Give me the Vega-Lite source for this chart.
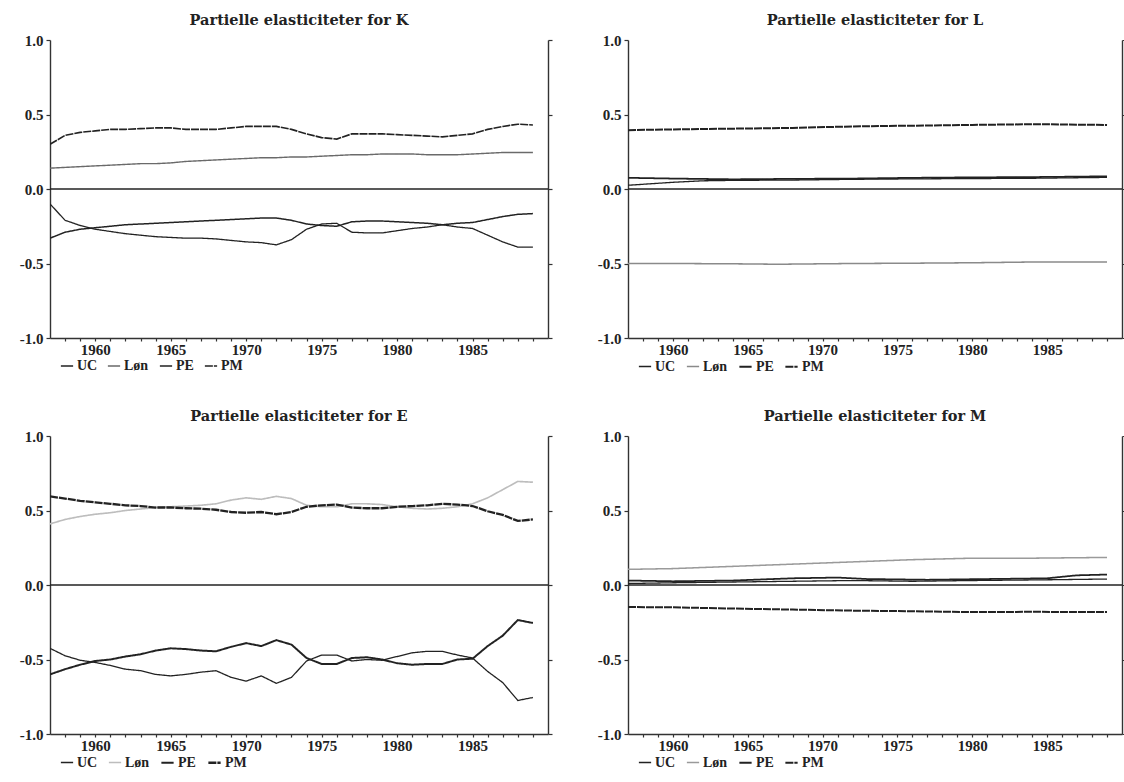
{
  "$schema": "https://vega.github.io/schema/vega-lite/v6.json",
  "padding": {"left": 19, "top": 12, "right": 0, "bottom": 0},
  "background": "white",
  "columns": 2,
  "spacing": {"row": 34, "column": 44},
  "datasets": {
    "el": [
      {"panel":"K","series":"Løn","year":1957,"value":0.14},{"panel":"K","series":"Løn","year":1958,"value":0.145},{"panel":"K","series":"Løn","year":1959,"value":0.15},{"panel":"K","series":"Løn","year":1960,"value":0.155},{"panel":"K","series":"Løn","year":1961,"value":0.16},{"panel":"K","series":"Løn","year":1962,"value":0.165},{"panel":"K","series":"Løn","year":1963,"value":0.17},{"panel":"K","series":"Løn","year":1964,"value":0.17},{"panel":"K","series":"Løn","year":1965,"value":0.175},{"panel":"K","series":"Løn","year":1966,"value":0.185},{"panel":"K","series":"Løn","year":1967,"value":0.19},{"panel":"K","series":"Løn","year":1968,"value":0.195},{"panel":"K","series":"Løn","year":1969,"value":0.2},{"panel":"K","series":"Løn","year":1970,"value":0.205},{"panel":"K","series":"Løn","year":1971,"value":0.21},{"panel":"K","series":"Løn","year":1972,"value":0.21},{"panel":"K","series":"Løn","year":1973,"value":0.215},{"panel":"K","series":"Løn","year":1974,"value":0.215},{"panel":"K","series":"Løn","year":1975,"value":0.22},{"panel":"K","series":"Løn","year":1976,"value":0.225},{"panel":"K","series":"Løn","year":1977,"value":0.23},{"panel":"K","series":"Løn","year":1978,"value":0.23},{"panel":"K","series":"Løn","year":1979,"value":0.235},{"panel":"K","series":"Løn","year":1980,"value":0.235},{"panel":"K","series":"Løn","year":1981,"value":0.235},{"panel":"K","series":"Løn","year":1982,"value":0.23},{"panel":"K","series":"Løn","year":1983,"value":0.23},{"panel":"K","series":"Løn","year":1984,"value":0.23},{"panel":"K","series":"Løn","year":1985,"value":0.235},{"panel":"K","series":"Løn","year":1986,"value":0.24},{"panel":"K","series":"Løn","year":1987,"value":0.245},{"panel":"K","series":"Løn","year":1988,"value":0.245},{"panel":"K","series":"Løn","year":1989,"value":0.245},
      {"panel":"K","series":"UC","year":1957,"value":-0.1},{"panel":"K","series":"UC","year":1958,"value":-0.21},{"panel":"K","series":"UC","year":1959,"value":-0.245},{"panel":"K","series":"UC","year":1960,"value":-0.27},{"panel":"K","series":"UC","year":1961,"value":-0.285},{"panel":"K","series":"UC","year":1962,"value":-0.3},{"panel":"K","series":"UC","year":1963,"value":-0.31},{"panel":"K","series":"UC","year":1964,"value":-0.32},{"panel":"K","series":"UC","year":1965,"value":-0.325},{"panel":"K","series":"UC","year":1966,"value":-0.33},{"panel":"K","series":"UC","year":1967,"value":-0.33},{"panel":"K","series":"UC","year":1968,"value":-0.335},{"panel":"K","series":"UC","year":1969,"value":-0.345},{"panel":"K","series":"UC","year":1970,"value":-0.355},{"panel":"K","series":"UC","year":1971,"value":-0.36},{"panel":"K","series":"UC","year":1972,"value":-0.375},{"panel":"K","series":"UC","year":1973,"value":-0.34},{"panel":"K","series":"UC","year":1974,"value":-0.27},{"panel":"K","series":"UC","year":1975,"value":-0.235},{"panel":"K","series":"UC","year":1976,"value":-0.23},{"panel":"K","series":"UC","year":1977,"value":-0.29},{"panel":"K","series":"UC","year":1978,"value":-0.295},{"panel":"K","series":"UC","year":1979,"value":-0.295},{"panel":"K","series":"UC","year":1980,"value":-0.28},{"panel":"K","series":"UC","year":1981,"value":-0.265},{"panel":"K","series":"UC","year":1982,"value":-0.255},{"panel":"K","series":"UC","year":1983,"value":-0.24},{"panel":"K","series":"UC","year":1984,"value":-0.255},{"panel":"K","series":"UC","year":1985,"value":-0.265},{"panel":"K","series":"UC","year":1986,"value":-0.31},{"panel":"K","series":"UC","year":1987,"value":-0.355},{"panel":"K","series":"UC","year":1988,"value":-0.39},{"panel":"K","series":"UC","year":1989,"value":-0.39},
      {"panel":"K","series":"PE","year":1957,"value":-0.33},{"panel":"K","series":"PE","year":1958,"value":-0.29},{"panel":"K","series":"PE","year":1959,"value":-0.27},{"panel":"K","series":"PE","year":1960,"value":-0.26},{"panel":"K","series":"PE","year":1961,"value":-0.25},{"panel":"K","series":"PE","year":1962,"value":-0.24},{"panel":"K","series":"PE","year":1963,"value":-0.235},{"panel":"K","series":"PE","year":1964,"value":-0.23},{"panel":"K","series":"PE","year":1965,"value":-0.225},{"panel":"K","series":"PE","year":1966,"value":-0.22},{"panel":"K","series":"PE","year":1967,"value":-0.215},{"panel":"K","series":"PE","year":1968,"value":-0.21},{"panel":"K","series":"PE","year":1969,"value":-0.205},{"panel":"K","series":"PE","year":1970,"value":-0.2},{"panel":"K","series":"PE","year":1971,"value":-0.195},{"panel":"K","series":"PE","year":1972,"value":-0.195},{"panel":"K","series":"PE","year":1973,"value":-0.21},{"panel":"K","series":"PE","year":1974,"value":-0.235},{"panel":"K","series":"PE","year":1975,"value":-0.245},{"panel":"K","series":"PE","year":1976,"value":-0.25},{"panel":"K","series":"PE","year":1977,"value":-0.22},{"panel":"K","series":"PE","year":1978,"value":-0.215},{"panel":"K","series":"PE","year":1979,"value":-0.215},{"panel":"K","series":"PE","year":1980,"value":-0.22},{"panel":"K","series":"PE","year":1981,"value":-0.225},{"panel":"K","series":"PE","year":1982,"value":-0.23},{"panel":"K","series":"PE","year":1983,"value":-0.24},{"panel":"K","series":"PE","year":1984,"value":-0.23},{"panel":"K","series":"PE","year":1985,"value":-0.225},{"panel":"K","series":"PE","year":1986,"value":-0.205},{"panel":"K","series":"PE","year":1987,"value":-0.185},{"panel":"K","series":"PE","year":1988,"value":-0.17},{"panel":"K","series":"PE","year":1989,"value":-0.165},
      {"panel":"K","series":"PM","year":1957,"value":0.3},{"panel":"K","series":"PM","year":1958,"value":0.36},{"panel":"K","series":"PM","year":1959,"value":0.38},{"panel":"K","series":"PM","year":1960,"value":0.39},{"panel":"K","series":"PM","year":1961,"value":0.4},{"panel":"K","series":"PM","year":1962,"value":0.4},{"panel":"K","series":"PM","year":1963,"value":0.405},{"panel":"K","series":"PM","year":1964,"value":0.41},{"panel":"K","series":"PM","year":1965,"value":0.41},{"panel":"K","series":"PM","year":1966,"value":0.4},{"panel":"K","series":"PM","year":1967,"value":0.4},{"panel":"K","series":"PM","year":1968,"value":0.4},{"panel":"K","series":"PM","year":1969,"value":0.41},{"panel":"K","series":"PM","year":1970,"value":0.42},{"panel":"K","series":"PM","year":1971,"value":0.42},{"panel":"K","series":"PM","year":1972,"value":0.42},{"panel":"K","series":"PM","year":1973,"value":0.4},{"panel":"K","series":"PM","year":1974,"value":0.37},{"panel":"K","series":"PM","year":1975,"value":0.345},{"panel":"K","series":"PM","year":1976,"value":0.335},{"panel":"K","series":"PM","year":1977,"value":0.37},{"panel":"K","series":"PM","year":1978,"value":0.37},{"panel":"K","series":"PM","year":1979,"value":0.37},{"panel":"K","series":"PM","year":1980,"value":0.365},{"panel":"K","series":"PM","year":1981,"value":0.36},{"panel":"K","series":"PM","year":1982,"value":0.355},{"panel":"K","series":"PM","year":1983,"value":0.35},{"panel":"K","series":"PM","year":1984,"value":0.36},{"panel":"K","series":"PM","year":1985,"value":0.37},{"panel":"K","series":"PM","year":1986,"value":0.4},{"panel":"K","series":"PM","year":1987,"value":0.42},{"panel":"K","series":"PM","year":1988,"value":0.435},{"panel":"K","series":"PM","year":1989,"value":0.43},

      {"panel":"L","series":"Løn","year":1957,"value":-0.5},{"panel":"L","series":"Løn","year":1960,"value":-0.5},{"panel":"L","series":"Løn","year":1964,"value":-0.502},{"panel":"L","series":"Løn","year":1967,"value":-0.505},{"panel":"L","series":"Løn","year":1972,"value":-0.5},{"panel":"L","series":"Løn","year":1976,"value":-0.498},{"panel":"L","series":"Løn","year":1980,"value":-0.495},{"panel":"L","series":"Løn","year":1984,"value":-0.49},{"panel":"L","series":"Løn","year":1989,"value":-0.49},
      {"panel":"L","series":"UC","year":1957,"value":0.025},{"panel":"L","series":"UC","year":1960,"value":0.045},{"panel":"L","series":"UC","year":1962,"value":0.055},{"panel":"L","series":"UC","year":1964,"value":0.058},{"panel":"L","series":"UC","year":1968,"value":0.06},{"panel":"L","series":"UC","year":1972,"value":0.065},{"panel":"L","series":"UC","year":1976,"value":0.068},{"panel":"L","series":"UC","year":1980,"value":0.07},{"panel":"L","series":"UC","year":1984,"value":0.072},{"panel":"L","series":"UC","year":1989,"value":0.078},
      {"panel":"L","series":"PE","year":1957,"value":0.075},{"panel":"L","series":"PE","year":1960,"value":0.07},{"panel":"L","series":"PE","year":1964,"value":0.065},{"panel":"L","series":"PE","year":1968,"value":0.068},{"panel":"L","series":"PE","year":1972,"value":0.07},{"panel":"L","series":"PE","year":1976,"value":0.075},{"panel":"L","series":"PE","year":1980,"value":0.078},{"panel":"L","series":"PE","year":1984,"value":0.08},{"panel":"L","series":"PE","year":1989,"value":0.085},
      {"panel":"L","series":"PM","year":1957,"value":0.395},{"panel":"L","series":"PM","year":1960,"value":0.4},{"panel":"L","series":"PM","year":1964,"value":0.405},{"panel":"L","series":"PM","year":1968,"value":0.41},{"panel":"L","series":"PM","year":1972,"value":0.42},{"panel":"L","series":"PM","year":1976,"value":0.425},{"panel":"L","series":"PM","year":1980,"value":0.43},{"panel":"L","series":"PM","year":1984,"value":0.435},{"panel":"L","series":"PM","year":1989,"value":0.43},

      {"panel":"E","series":"Løn","year":1957,"value":0.41},{"panel":"E","series":"Løn","year":1958,"value":0.44},{"panel":"E","series":"Løn","year":1959,"value":0.46},{"panel":"E","series":"Løn","year":1960,"value":0.475},{"panel":"E","series":"Løn","year":1961,"value":0.485},{"panel":"E","series":"Løn","year":1962,"value":0.5},{"panel":"E","series":"Løn","year":1963,"value":0.51},{"panel":"E","series":"Løn","year":1964,"value":0.52},{"panel":"E","series":"Løn","year":1965,"value":0.525},{"panel":"E","series":"Løn","year":1966,"value":0.53},{"panel":"E","series":"Løn","year":1967,"value":0.535},{"panel":"E","series":"Løn","year":1968,"value":0.545},{"panel":"E","series":"Løn","year":1969,"value":0.57},{"panel":"E","series":"Løn","year":1970,"value":0.585},{"panel":"E","series":"Løn","year":1971,"value":0.575},{"panel":"E","series":"Løn","year":1972,"value":0.595},{"panel":"E","series":"Løn","year":1973,"value":0.58},{"panel":"E","series":"Løn","year":1974,"value":0.535},{"panel":"E","series":"Løn","year":1975,"value":0.525},{"panel":"E","series":"Løn","year":1976,"value":0.525},{"panel":"E","series":"Løn","year":1977,"value":0.545},{"panel":"E","series":"Løn","year":1978,"value":0.545},{"panel":"E","series":"Løn","year":1979,"value":0.54},{"panel":"E","series":"Løn","year":1980,"value":0.525},{"panel":"E","series":"Løn","year":1981,"value":0.515},{"panel":"E","series":"Løn","year":1982,"value":0.51},{"panel":"E","series":"Løn","year":1983,"value":0.515},{"panel":"E","series":"Løn","year":1984,"value":0.525},{"panel":"E","series":"Løn","year":1985,"value":0.545},{"panel":"E","series":"Løn","year":1986,"value":0.585},{"panel":"E","series":"Løn","year":1987,"value":0.64},{"panel":"E","series":"Løn","year":1988,"value":0.695},{"panel":"E","series":"Løn","year":1989,"value":0.69},
      {"panel":"E","series":"UC","year":1957,"value":-0.425},{"panel":"E","series":"UC","year":1958,"value":-0.475},{"panel":"E","series":"UC","year":1959,"value":-0.505},{"panel":"E","series":"UC","year":1960,"value":-0.52},{"panel":"E","series":"UC","year":1961,"value":-0.54},{"panel":"E","series":"UC","year":1962,"value":-0.565},{"panel":"E","series":"UC","year":1963,"value":-0.575},{"panel":"E","series":"UC","year":1964,"value":-0.6},{"panel":"E","series":"UC","year":1965,"value":-0.61},{"panel":"E","series":"UC","year":1966,"value":-0.6},{"panel":"E","series":"UC","year":1967,"value":-0.585},{"panel":"E","series":"UC","year":1968,"value":-0.575},{"panel":"E","series":"UC","year":1969,"value":-0.62},{"panel":"E","series":"UC","year":1970,"value":-0.645},{"panel":"E","series":"UC","year":1971,"value":-0.61},{"panel":"E","series":"UC","year":1972,"value":-0.66},{"panel":"E","series":"UC","year":1973,"value":-0.62},{"panel":"E","series":"UC","year":1974,"value":-0.51},{"panel":"E","series":"UC","year":1975,"value":-0.47},{"panel":"E","series":"UC","year":1976,"value":-0.47},{"panel":"E","series":"UC","year":1977,"value":-0.51},{"panel":"E","series":"UC","year":1978,"value":-0.5},{"panel":"E","series":"UC","year":1979,"value":-0.505},{"panel":"E","series":"UC","year":1980,"value":-0.48},{"panel":"E","series":"UC","year":1981,"value":-0.455},{"panel":"E","series":"UC","year":1982,"value":-0.445},{"panel":"E","series":"UC","year":1983,"value":-0.445},{"panel":"E","series":"UC","year":1984,"value":-0.47},{"panel":"E","series":"UC","year":1985,"value":-0.49},{"panel":"E","series":"UC","year":1986,"value":-0.58},{"panel":"E","series":"UC","year":1987,"value":-0.655},{"panel":"E","series":"UC","year":1988,"value":-0.775},{"panel":"E","series":"UC","year":1989,"value":-0.755},
      {"panel":"E","series":"PE","year":1957,"value":-0.6},{"panel":"E","series":"PE","year":1958,"value":-0.565},{"panel":"E","series":"PE","year":1959,"value":-0.535},{"panel":"E","series":"PE","year":1960,"value":-0.51},{"panel":"E","series":"PE","year":1961,"value":-0.5},{"panel":"E","series":"PE","year":1962,"value":-0.48},{"panel":"E","series":"PE","year":1963,"value":-0.465},{"panel":"E","series":"PE","year":1964,"value":-0.44},{"panel":"E","series":"PE","year":1965,"value":-0.425},{"panel":"E","series":"PE","year":1966,"value":-0.43},{"panel":"E","series":"PE","year":1967,"value":-0.44},{"panel":"E","series":"PE","year":1968,"value":-0.445},{"panel":"E","series":"PE","year":1969,"value":-0.415},{"panel":"E","series":"PE","year":1970,"value":-0.39},{"panel":"E","series":"PE","year":1971,"value":-0.41},{"panel":"E","series":"PE","year":1972,"value":-0.37},{"panel":"E","series":"PE","year":1973,"value":-0.4},{"panel":"E","series":"PE","year":1974,"value":-0.49},{"panel":"E","series":"PE","year":1975,"value":-0.53},{"panel":"E","series":"PE","year":1976,"value":-0.53},{"panel":"E","series":"PE","year":1977,"value":-0.49},{"panel":"E","series":"PE","year":1978,"value":-0.485},{"panel":"E","series":"PE","year":1979,"value":-0.5},{"panel":"E","series":"PE","year":1980,"value":-0.525},{"panel":"E","series":"PE","year":1981,"value":-0.535},{"panel":"E","series":"PE","year":1982,"value":-0.53},{"panel":"E","series":"PE","year":1983,"value":-0.53},{"panel":"E","series":"PE","year":1984,"value":-0.5},{"panel":"E","series":"PE","year":1985,"value":-0.495},{"panel":"E","series":"PE","year":1986,"value":-0.41},{"panel":"E","series":"PE","year":1987,"value":-0.34},{"panel":"E","series":"PE","year":1988,"value":-0.235},{"panel":"E","series":"PE","year":1989,"value":-0.255},
      {"panel":"E","series":"PM","year":1957,"value":0.595},{"panel":"E","series":"PM","year":1958,"value":0.58},{"panel":"E","series":"PM","year":1959,"value":0.565},{"panel":"E","series":"PM","year":1960,"value":0.555},{"panel":"E","series":"PM","year":1961,"value":0.545},{"panel":"E","series":"PM","year":1962,"value":0.535},{"panel":"E","series":"PM","year":1963,"value":0.53},{"panel":"E","series":"PM","year":1964,"value":0.52},{"panel":"E","series":"PM","year":1965,"value":0.52},{"panel":"E","series":"PM","year":1966,"value":0.515},{"panel":"E","series":"PM","year":1967,"value":0.512},{"panel":"E","series":"PM","year":1968,"value":0.505},{"panel":"E","series":"PM","year":1969,"value":0.49},{"panel":"E","series":"PM","year":1970,"value":0.485},{"panel":"E","series":"PM","year":1971,"value":0.49},{"panel":"E","series":"PM","year":1972,"value":0.475},{"panel":"E","series":"PM","year":1973,"value":0.49},{"panel":"E","series":"PM","year":1974,"value":0.525},{"panel":"E","series":"PM","year":1975,"value":0.535},{"panel":"E","series":"PM","year":1976,"value":0.54},{"panel":"E","series":"PM","year":1977,"value":0.52},{"panel":"E","series":"PM","year":1978,"value":0.515},{"panel":"E","series":"PM","year":1979,"value":0.515},{"panel":"E","series":"PM","year":1980,"value":0.525},{"panel":"E","series":"PM","year":1981,"value":0.53},{"panel":"E","series":"PM","year":1982,"value":0.535},{"panel":"E","series":"PM","year":1983,"value":0.545},{"panel":"E","series":"PM","year":1984,"value":0.54},{"panel":"E","series":"PM","year":1985,"value":0.53},{"panel":"E","series":"PM","year":1986,"value":0.495},{"panel":"E","series":"PM","year":1987,"value":0.47},{"panel":"E","series":"PM","year":1988,"value":0.43},{"panel":"E","series":"PM","year":1989,"value":0.44},

      {"panel":"M","series":"Løn","year":1957,"value":0.105},{"panel":"M","series":"Løn","year":1960,"value":0.11},{"panel":"M","series":"Løn","year":1964,"value":0.125},{"panel":"M","series":"Løn","year":1968,"value":0.14},{"panel":"M","series":"Løn","year":1972,"value":0.155},{"panel":"M","series":"Løn","year":1976,"value":0.17},{"panel":"M","series":"Løn","year":1980,"value":0.18},{"panel":"M","series":"Løn","year":1984,"value":0.18},{"panel":"M","series":"Løn","year":1989,"value":0.185},
      {"panel":"M","series":"UC","year":1957,"value":0.01},{"panel":"M","series":"UC","year":1960,"value":0.015},{"panel":"M","series":"UC","year":1964,"value":0.02},{"panel":"M","series":"UC","year":1968,"value":0.025},{"panel":"M","series":"UC","year":1972,"value":0.03},{"panel":"M","series":"UC","year":1976,"value":0.025},{"panel":"M","series":"UC","year":1980,"value":0.03},{"panel":"M","series":"UC","year":1985,"value":0.035},{"panel":"M","series":"UC","year":1989,"value":0.04},
      {"panel":"M","series":"PE","year":1957,"value":0.03},{"panel":"M","series":"PE","year":1960,"value":0.025},{"panel":"M","series":"PE","year":1964,"value":0.03},{"panel":"M","series":"PE","year":1968,"value":0.045},{"panel":"M","series":"PE","year":1971,"value":0.05},{"panel":"M","series":"PE","year":1973,"value":0.04},{"panel":"M","series":"PE","year":1977,"value":0.035},{"panel":"M","series":"PE","year":1981,"value":0.04},{"panel":"M","series":"PE","year":1985,"value":0.045},{"panel":"M","series":"PE","year":1987,"value":0.065},{"panel":"M","series":"PE","year":1989,"value":0.07},
      {"panel":"M","series":"PM","year":1957,"value":-0.148},{"panel":"M","series":"PM","year":1960,"value":-0.15},{"panel":"M","series":"PM","year":1964,"value":-0.158},{"panel":"M","series":"PM","year":1968,"value":-0.165},{"panel":"M","series":"PM","year":1972,"value":-0.172},{"panel":"M","series":"PM","year":1976,"value":-0.176},{"panel":"M","series":"PM","year":1980,"value":-0.182},{"panel":"M","series":"PM","year":1984,"value":-0.18},{"panel":"M","series":"PM","year":1989,"value":-0.182}
    ]
  },
  "concat": [
    {
      "title": "Partielle elasticiteter for K",
      "width": 498, "height": 298,
      "resolve": {"axis": {"y": "independent"}},
      "layer": [
        {"data": {"name": "el"}, "transform": [{"filter": "datum.panel === 'K'"}], "mark": {"type": "line", "clip": true},
         "encoding": {
           "x": {"field": "year", "type": "quantitative", "scale": {"domain": [1957, 1990], "nice": false, "zero": false}, "axis": {"title": null, "values": [1958,1959,1960,1961,1962,1963,1964,1965,1966,1967,1968,1969,1970,1971,1972,1973,1974,1975,1976,1977,1978,1979,1980,1981,1982,1983,1984,1985,1986,1987,1988,1989], "labelExpr": "datum.value % 5 === 0 ? datum.value : ''", "labelFlush": false, "labelPadding": 1, "tickSize": 3}},
           "y": {"field": "value", "type": "quantitative", "scale": {"domain": [-1, 1], "nice": false}, "axis": {"orient": "left", "title": null, "values": [-1, -0.5, 0, 0.5, 1], "labelExpr": "datum.value < 0 ? '-' + format(-datum.value, '.1f') : format(datum.value, '.1f')"}},
           "color": {"field": "series", "type": "nominal", "scale": {"domain": ["UC", "Løn", "PE", "PM"], "range": ["#222222", "#6a6a6a", "#222222", "#222222"]}, "legend": {"title": null, "orient": "none", "legendX": 10, "legendY": 319}},
           "strokeDash": {"field": "series", "type": "nominal", "scale": {"domain": ["UC", "Løn", "PE", "PM"], "range": [[1, 0], [1, 0], [1, 0], [8, 1]]}, "legend": {"title": null, "orient": "none", "legendX": 10, "legendY": 319}},
           "strokeWidth": {"field": "series", "type": "nominal", "scale": {"domain": ["UC", "Løn", "PE", "PM"], "range": [1.3, 1.6, 2.6, 2.6]}, "legend": {"title": null, "orient": "none", "legendX": 10, "legendY": 319}}
         }},
        {"data": {"values": [{"value": 0}]}, "mark": {"type": "rule", "color": "#222", "strokeWidth": 1.3},
         "encoding": {"y": {"field": "value", "type": "quantitative", "scale": {"domain": [-1, 1], "nice": false}, "axis": {"orient": "right", "labels": false, "values": [-1, -0.5, 0, 0.5, 1], "title": null}}}}
      ]
    },
    {
      "title": "Partielle elasticiteter for L",
      "width": 494, "height": 298,
      "resolve": {"axis": {"y": "independent"}},
      "layer": [
        {"data": {"name": "el"}, "transform": [{"filter": "datum.panel === 'L'"}], "mark": {"type": "line", "clip": true},
         "encoding": {
           "x": {"field": "year", "type": "quantitative", "scale": {"domain": [1957, 1990], "nice": false, "zero": false}, "axis": {"title": null, "values": [1958,1959,1960,1961,1962,1963,1964,1965,1966,1967,1968,1969,1970,1971,1972,1973,1974,1975,1976,1977,1978,1979,1980,1981,1982,1983,1984,1985,1986,1987,1988,1989], "labelExpr": "datum.value % 5 === 0 ? datum.value : ''", "labelFlush": false, "labelPadding": 1, "tickSize": 3}},
           "y": {"field": "value", "type": "quantitative", "scale": {"domain": [-1, 1], "nice": false}, "axis": {"orient": "left", "title": null, "values": [-1, -0.5, 0, 0.5, 1], "labelExpr": "datum.value < 0 ? '-' + format(-datum.value, '.1f') : format(datum.value, '.1f')"}},
           "color": {"field": "series", "type": "nominal", "scale": {"domain": ["UC", "Løn", "PE", "PM"], "range": ["#222222", "#8a8a8a", "#222222", "#222222"]}, "legend": {"title": null, "orient": "none", "legendX": 10, "legendY": 319}},
           "strokeDash": {"field": "series", "type": "nominal", "scale": {"domain": ["UC", "Løn", "PE", "PM"], "range": [[1, 0], [1, 0], [1, 0], [8, 1]]}, "legend": {"title": null, "orient": "none", "legendX": 10, "legendY": 319}},
           "strokeWidth": {"field": "series", "type": "nominal", "scale": {"domain": ["UC", "Løn", "PE", "PM"], "range": [1.3, 2, 2.6, 2.6]}, "legend": {"title": null, "orient": "none", "legendX": 10, "legendY": 319}}
         }},
        {"data": {"values": [{"value": 0}]}, "mark": {"type": "rule", "color": "#222", "strokeWidth": 1.3},
         "encoding": {"y": {"field": "value", "type": "quantitative", "scale": {"domain": [-1, 1], "nice": false}, "axis": {"orient": "right", "labels": false, "values": [-1, -0.5, 0, 0.5, 1], "title": null}}}}
      ]
    },
    {
      "title": "Partielle elasticiteter for E",
      "width": 498, "height": 298,
      "resolve": {"axis": {"y": "independent"}},
      "layer": [
        {"data": {"name": "el"}, "transform": [{"filter": "datum.panel === 'E'"}], "mark": {"type": "line", "clip": true},
         "encoding": {
           "x": {"field": "year", "type": "quantitative", "scale": {"domain": [1957, 1990], "nice": false, "zero": false}, "axis": {"title": null, "values": [1958,1959,1960,1961,1962,1963,1964,1965,1966,1967,1968,1969,1970,1971,1972,1973,1974,1975,1976,1977,1978,1979,1980,1981,1982,1983,1984,1985,1986,1987,1988,1989], "labelExpr": "datum.value % 5 === 0 ? datum.value : ''", "labelFlush": false, "labelPadding": 1, "tickSize": 3}},
           "y": {"field": "value", "type": "quantitative", "scale": {"domain": [-1, 1], "nice": false}, "axis": {"orient": "left", "title": null, "values": [-1, -0.5, 0, 0.5, 1], "labelExpr": "datum.value < 0 ? '-' + format(-datum.value, '.1f') : format(datum.value, '.1f')"}},
           "color": {"field": "series", "type": "nominal", "scale": {"domain": ["UC", "Løn", "PE", "PM"], "range": ["#222222", "#bdbdbd", "#222222", "#222222"]}, "legend": {"title": null, "orient": "none", "legendX": 10, "legendY": 319}},
           "strokeDash": {"field": "series", "type": "nominal", "scale": {"domain": ["UC", "Løn", "PE", "PM"], "range": [[1, 0], [1, 0], [1, 0], [8, 1]]}, "legend": {"title": null, "orient": "none", "legendX": 10, "legendY": 319}},
           "strokeWidth": {"field": "series", "type": "nominal", "scale": {"domain": ["UC", "Løn", "PE", "PM"], "range": [1.3, 2.3, 2.6, 2.6]}, "legend": {"title": null, "orient": "none", "legendX": 10, "legendY": 319}}
         }},
        {"data": {"values": [{"value": 0}]}, "mark": {"type": "rule", "color": "#222", "strokeWidth": 1.3},
         "encoding": {"y": {"field": "value", "type": "quantitative", "scale": {"domain": [-1, 1], "nice": false}, "axis": {"orient": "right", "labels": false, "values": [-1, -0.5, 0, 0.5, 1], "title": null}}}}
      ]
    },
    {
      "title": "Partielle elasticiteter for M",
      "width": 494, "height": 298,
      "resolve": {"axis": {"y": "independent"}},
      "layer": [
        {"data": {"name": "el"}, "transform": [{"filter": "datum.panel === 'M'"}], "mark": {"type": "line", "clip": true},
         "encoding": {
           "x": {"field": "year", "type": "quantitative", "scale": {"domain": [1957, 1990], "nice": false, "zero": false}, "axis": {"title": null, "values": [1958,1959,1960,1961,1962,1963,1964,1965,1966,1967,1968,1969,1970,1971,1972,1973,1974,1975,1976,1977,1978,1979,1980,1981,1982,1983,1984,1985,1986,1987,1988,1989], "labelExpr": "datum.value % 5 === 0 ? datum.value : ''", "labelFlush": false, "labelPadding": 1, "tickSize": 3}},
           "y": {"field": "value", "type": "quantitative", "scale": {"domain": [-1, 1], "nice": false}, "axis": {"orient": "left", "title": null, "values": [-1, -0.5, 0, 0.5, 1], "labelExpr": "datum.value < 0 ? '-' + format(-datum.value, '.1f') : format(datum.value, '.1f')"}},
           "color": {"field": "series", "type": "nominal", "scale": {"domain": ["UC", "Løn", "PE", "PM"], "range": ["#222222", "#9a9a9a", "#222222", "#222222"]}, "legend": {"title": null, "orient": "none", "legendX": 10, "legendY": 319}},
           "strokeDash": {"field": "series", "type": "nominal", "scale": {"domain": ["UC", "Løn", "PE", "PM"], "range": [[1, 0], [1, 0], [1, 0], [8, 1]]}, "legend": {"title": null, "orient": "none", "legendX": 10, "legendY": 319}},
           "strokeWidth": {"field": "series", "type": "nominal", "scale": {"domain": ["UC", "Løn", "PE", "PM"], "range": [1.3, 2, 2.6, 2.6]}, "legend": {"title": null, "orient": "none", "legendX": 10, "legendY": 319}}
         }},
        {"data": {"values": [{"value": 0}]}, "mark": {"type": "rule", "color": "#222", "strokeWidth": 1.3},
         "encoding": {"y": {"field": "value", "type": "quantitative", "scale": {"domain": [-1, 1], "nice": false}, "axis": {"orient": "right", "labels": false, "values": [-1, -0.5, 0, 0.5, 1], "title": null}}}}
      ]
    }
  ],
  "resolve": {
    "scale": {"color": "independent", "strokeDash": "independent", "strokeWidth": "independent"},
    "legend": {"color": "independent", "strokeDash": "independent", "strokeWidth": "independent"}
  },
  "config": {
    "view": {"stroke": null},
    "font": "Liberation Serif",
    "title": {"font": "DejaVu Serif", "fontSize": 14.5, "fontWeight": "bold", "color": "#222", "offset": 5, "anchor": "middle"},
    "axis": {"grid": false, "labelFont": "Liberation Serif", "labelFontSize": 15, "labelFontWeight": "bold", "labelColor": "#222", "domainColor": "#333333", "domainWidth": 1.4, "tickColor": "#333333", "tickWidth": 1.2, "tickSize": 4, "labelPadding": 3},
    "legend": {"direction": "horizontal", "symbolType": "stroke", "symbolSize": 150, "labelFont": "Liberation Serif", "labelFontSize": 14, "labelFontWeight": "bold", "labelColor": "#222", "columnPadding": 7, "labelOffset": 3, "padding": 0}
  }
}
